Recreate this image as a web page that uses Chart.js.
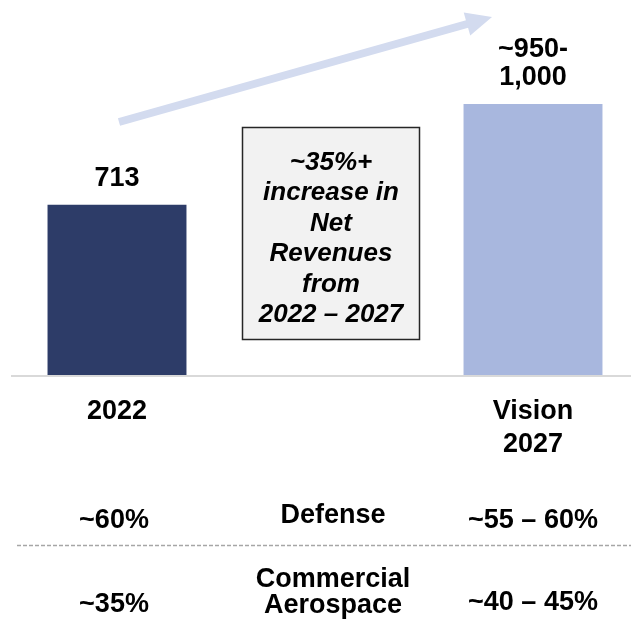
<!DOCTYPE html>
<html>
<head>
<meta charset="utf-8">
<script src="https://cdn.jsdelivr.net/npm/chart.js@4"></script>
<style>
  html, body { margin: 0; padding: 0; background: #fff; }
  #wrap { width: 631px; height: 630px; }
</style>
</head>
<body>
<div id="wrap"><canvas id="revenueChart"></canvas></div>
<script>
// data
const categories = ['2022', ['Vision', '2027']];
const revenue = [713, 975];
const valueLabels = [['713'], ['~950-', '1,000']];
const segments = [['Defense'], ['Commercial', 'Aerospace']];
const share2022 = ['~60%', '~35%'];
const share2027 = ['~55 – 60%', '~40 – 45%'];
const boxLines = ['~35%+', 'increase in', 'Net', 'Revenues', 'from', '2022 – 2027'];

const FONT = '"Liberation Sans", Arial, Helvetica, sans-serif';
const Y_MIN = 269;

// labels above the bars
const valueLabelPlugin = {
    id: 'valueLabels',
    afterDatasetsDraw(chart) {
        const ctx = chart.ctx;
        const meta = chart.getDatasetMeta(0);
        ctx.save();
        ctx.fillStyle = '#000';
        ctx.font = 'bold 27px ' + FONT;
        ctx.textAlign = 'center';
        ctx.textBaseline = 'alphabetic';
        meta.data.forEach((bar, i) => {
            const lines = valueLabels[i];
            lines.forEach((line, j) => {
                const y = bar.y - 19 - (lines.length - 1 - j) * 28;
                ctx.fillText(line, bar.x, y);
            });
        });
        ctx.restore();
    }
};

// arrow, text box, baseline and the split table
const extrasPlugin = {
    id: 'extras',
    afterDraw(chart) {
        const ctx = chart.ctx;
        const x = chart.scales.x;
        const yBase = chart.chartArea.bottom;
        ctx.save();

        // baseline
        ctx.strokeStyle = '#d9d9d9';
        ctx.lineWidth = 2;
        ctx.beginPath();
        ctx.moveTo(11, yBase + 1);
        ctx.lineTo(631, yBase + 1);
        ctx.stroke();

        // growth arrow
        const sx = 119, sy = 122, tx = 492, ty = 17;
        const len = Math.hypot(tx - sx, ty - sy);
        const ux = (tx - sx) / len, uy = (ty - sy) / len;
        const nx = -uy, ny = ux;
        const hx = tx - ux * 26, hy = ty - uy * 26;
        ctx.strokeStyle = '#d3dbef';
        ctx.fillStyle = '#d3dbef';
        ctx.lineWidth = 8;
        ctx.beginPath();
        ctx.moveTo(sx, sy);
        ctx.lineTo(hx + ux * 2, hy + uy * 2);
        ctx.stroke();
        ctx.beginPath();
        ctx.moveTo(tx, ty);
        ctx.lineTo(hx + nx * 12, hy + ny * 12);
        ctx.lineTo(hx - nx * 12, hy - ny * 12);
        ctx.closePath();
        ctx.fill();

        // text box
        ctx.fillStyle = '#f2f2f2';
        ctx.fillRect(242, 127, 178, 213);
        ctx.strokeStyle = '#262626';
        ctx.lineWidth = 1.5;
        ctx.strokeRect(242.5, 127.5, 177, 212);
        ctx.fillStyle = '#000';
        ctx.font = 'italic bold 26px ' + FONT;
        ctx.textAlign = 'center';
        ctx.textBaseline = 'alphabetic';
        boxLines.forEach((line, i) => {
            ctx.fillText(line, 331, 170 + i * 30.4);
        });

        // segment table
        const xl = x.getPixelForValue(0) - 3;
        const xr = x.getPixelForValue(1);
        const xm = 333;
        ctx.font = 'bold 27px ' + FONT;
        ctx.fillText(share2022[0], xl, 528);
        ctx.fillText(segments[0][0], xm, 523);
        ctx.fillText(share2027[0], xr, 528);

        ctx.strokeStyle = '#a6a6a6';
        ctx.lineWidth = 1.5;
        ctx.setLineDash([4, 2]);
        ctx.beginPath();
        ctx.moveTo(17, 545.5);
        ctx.lineTo(631, 545.5);
        ctx.stroke();
        ctx.setLineDash([]);

        ctx.fillText(share2022[1], xl, 612);
        ctx.fillText(segments[1][0], xm, 587);
        ctx.fillText(segments[1][1], xm, 613);
        ctx.fillText(share2027[1], xr, 610);

        ctx.restore();
    }
};

const ctx = document.getElementById('revenueChart').getContext('2d');
new Chart(ctx, {
    type: 'bar',
    data: {
        labels: categories,
        datasets: [{
            label: 'Net Revenues',
            data: revenue,
            backgroundColor: ['#2d3c68', '#a8b7de'],
            borderWidth: 0,
            categoryPercentage: 1,
            barPercentage: 0.334,
            base: Y_MIN,
            clip: { left: 150, right: 150, top: 10, bottom: 0 }
        }]
    },
    options: {
        responsive: true,
        maintainAspectRatio: false,
        animation: false,
        devicePixelRatio: 1,
        layout: {
            padding: { left: 117, right: 98, top: 0, bottom: 149 }
        },
        plugins: {
            legend: { display: false },
            title: { display: false },
            tooltip: { enabled: false }
        },
        scales: {
            x: {
                offset: false,
                grid: { display: false, drawTicks: false },
                border: { display: false },
                ticks: {
                    padding: 20,
                    color: '#000',
                    maxRotation: 0,
                    autoSkip: false,
                    font: { family: FONT, size: 27, weight: 'bold', lineHeight: 1.22 }
                }
            },
            y: {
                display: false,
                min: Y_MIN,
                max: 1246
            }
        }
    },
    plugins: [valueLabelPlugin, extrasPlugin]
});
</script>
</body>
</html>
